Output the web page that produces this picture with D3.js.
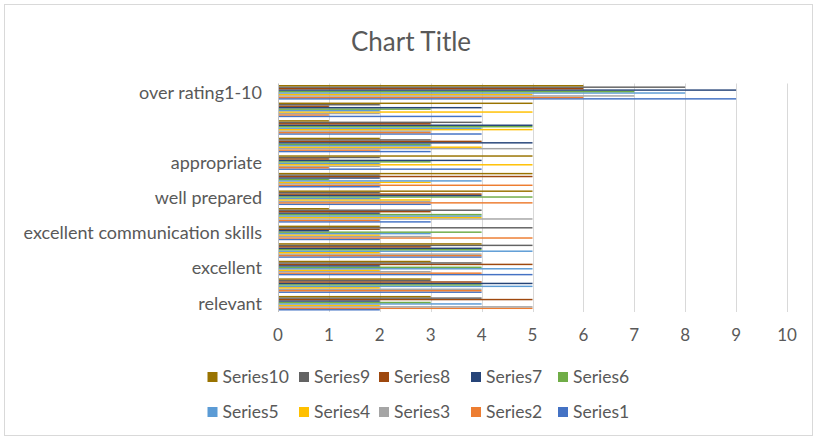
<!DOCTYPE html>
<html>
<head>
<meta charset="utf-8">
<script src="https://cdn.jsdelivr.net/npm/d3@7/dist/d3.min.js"></script>
<style>
  html, body { margin: 0; padding: 0; background: #fff; }
  svg { display: block; }
  text { font-family: Lato, "Open Sans", sans-serif; fill: #595959; }
</style>
</head>
<body>
<div id="chart"></div>
<script>
// ---- data ----
// categories from first (bottom) to last (top); unlabeled ones are hidden by Excel
const categories = ["relevant", "", "excellent", "", "excellent communication skills", "", "well prepared", "", "appropriate", "", "", "", "over rating1-10"];
const seriesNames = ["Series1", "Series2", "Series3", "Series4", "Series5", "Series6", "Series7", "Series8", "Series9", "Series10"];
const seriesColors = ["#4472C4", "#ED7D31", "#A5A5A5", "#FFC000", "#5B9BD5", "#70AD47", "#264478", "#9E480E", "#636363", "#997300"];
const series1  = [2, 4, 5, 4, 2, 3, 3, 2, 4, 3, 4, 4, 9];
const series2  = [5, 4, 4, 4, 5, 2, 5, 5, 1, 2, 3, 1, 6];
const series3  = [5, 4, 3, 4, 3, 5, 3, 2, 2, 5, 3, 2, 7];
const series4  = [2, 2, 2, 2, 2, 4, 3, 3, 5, 4, 5, 5, 5];
const series5  = [4, 5, 5, 5, 3, 4, 2, 4, 2, 3, 4, 2, 8];
const series6  = [3, 4, 4, 4, 4, 4, 5, 1, 3, 3, 5, 3, 7];
const series7  = [2, 5, 2, 4, 1, 2, 4, 2, 4, 5, 5, 4, 9];
const series8  = [5, 4, 5, 3, 2, 3, 4, 5, 1, 4, 3, 1, 6];
const series9  = [4, 3, 4, 5, 5, 4, 2, 2, 2, 3, 4, 2, 8];
const series10 = [3, 3, 3, 4, 2, 1, 5, 5, 5, 2, 1, 5, 6];
const seriesValues = [series1, series2, series3, series4, series5, series6, series7, series8, series9, series10];
const xTicks = [0, 1, 2, 3, 4, 5, 6, 7, 8, 9, 10];
const chartTitle = "Chart Title";
const legendRows = [["Series10", "Series9", "Series8", "Series7", "Series6"],
                    ["Series5", "Series4", "Series3", "Series2", "Series1"]];

// ---- layout ----
const W = 817, H = 440;
const plot = { left: 278, right: 787, top: 83.5, bottom: 312 };

const svg = d3.select("#chart").append("svg").attr("width", W).attr("height", H);

svg.append("rect").attr("x", 4.5).attr("y", 4.5).attr("width", W - 9).attr("height", H - 9)
  .attr("fill", "#fff").attr("stroke", "#d9d9d9").attr("stroke-width", 1);

svg.append("text").attr("x", 411).attr("y", 51).attr("text-anchor", "middle")
  .attr("font-size", 26).text(chartTitle);

const x = d3.scaleLinear().domain([0, 10]).range([plot.left, plot.right]);
const catIdx = d3.range(categories.length);
const y = d3.scaleBand().domain(catIdx.slice().reverse()).range([plot.top, plot.bottom])
  .paddingInner(0.17).paddingOuter(0.085);
const ySub = d3.scaleBand().domain(d3.range(seriesNames.length).reverse()).range([0, y.bandwidth()]);

// gridlines
svg.append("g").selectAll("line").data(xTicks.slice(1)).join("line")
  .attr("x1", d => Math.round(x(d)) + 0.5).attr("x2", d => Math.round(x(d)) + 0.5)
  .attr("y1", plot.top).attr("y2", plot.bottom)
  .attr("stroke", "#d9d9d9").attr("stroke-width", 1);

// bars
const gBars = svg.append("g");
seriesValues.forEach((vals, s) => {
  gBars.append("g").attr("fill", seriesColors[s]).selectAll("rect").data(vals).join("rect")
    .attr("x", x(0))
    .attr("y", (d, i) => y(i) + ySub(s))
    .attr("width", d => x(d) - x(0))
    .attr("height", ySub.bandwidth());
});

// category axis line
svg.append("line").attr("x1", Math.round(x(0)) + 0.5).attr("x2", Math.round(x(0)) + 0.5)
  .attr("y1", plot.top).attr("y2", plot.bottom).attr("stroke", "#bfbfbf");

// x tick labels
svg.append("g").selectAll("text").data(xTicks).join("text")
  .attr("x", d => x(d)).attr("y", 340.5).attr("text-anchor", "middle")
  .attr("font-size", 17).text(d => d);

// category labels (every other one, as shown)
svg.append("g").selectAll("text").data(catIdx.filter(i => i % 2 === 0)).join("text")
  .attr("x", 262).attr("y", i => y(i) + y.bandwidth() / 2).attr("dy", "0.35em")
  .attr("text-anchor", "end").attr("font-size", 18).text(i => categories[i]);

// legend
const legendColX = [207.5, 299, 379, 471, 558];
const legendRowY = [377, 412];
legendRows.forEach((row, r) => {
  row.forEach((name, c) => {
    const s = seriesNames.indexOf(name);
    const g = svg.append("g").attr("transform", `translate(${legendColX[c]},${legendRowY[r]})`);
    g.append("rect").attr("x", 0).attr("y", -5).attr("width", 10).attr("height", 10).attr("fill", seriesColors[s]);
    g.append("text").attr("x", 15).attr("y", 0).attr("dy", "0.35em").attr("font-size", 17.5).text(name);
  });
});
</script>
</body>
</html>
